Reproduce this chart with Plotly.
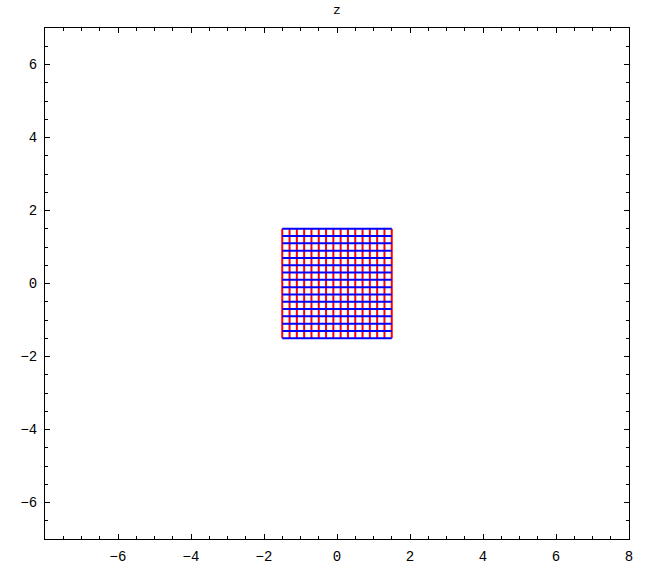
import plotly.graph_objects as go

# Grid line positions (both directions)
grid_positions = [-1.5, -1.3, -1.1, -0.9, -0.7, -0.5, -0.3, -0.1,
                  0.1, 0.3, 0.5, 0.7, 0.9, 1.1, 1.3, 1.5]
grid_min = -1.5
grid_max = 1.5

x_tickvals = [-6, -4, -2, 0, 2, 4, 6, 8]
x_ticktext = ["\u22126", "\u22124", "\u22122", "0", "2", "4", "6", "8"]
y_tickvals = [-6, -4, -2, 0, 2, 4, 6]
y_ticktext = ["\u22126", "\u22124", "\u22122", "0", "2", "4", "6"]

title_text = "z"

fig = go.Figure()

# vertical red lines
vx, vy = [], []
for p in grid_positions:
    vx += [p, p, None]
    vy += [grid_min, grid_max, None]
fig.add_trace(go.Scatter(x=vx, y=vy, mode="lines",
                         line=dict(color="#ff0000", width=2),
                         hoverinfo="skip", showlegend=False))

# horizontal blue lines
hx, hy = [], []
for p in grid_positions:
    hx += [grid_min, grid_max, None]
    hy += [p, p, None]
fig.add_trace(go.Scatter(x=hx, y=hy, mode="lines",
                         line=dict(color="#0000ff", width=2),
                         hoverinfo="skip", showlegend=False))

font = dict(family="Liberation Mono, Courier New, monospace", size=14, color="black")

axis_common = dict(
    showgrid=False, zeroline=False, showline=True, linecolor="black", linewidth=1,
    mirror="allticks", ticks="inside", ticklen=5, tickcolor="black", tickwidth=1,
    minor=dict(dtick=0.5, tick0=0, ticks="inside", ticklen=3, tickcolor="black", tickwidth=1, showgrid=False),
    tickfont=font, tickmode="array", automargin=False,
)

fig.update_xaxes(range=[-8, 8], tickvals=x_tickvals, ticktext=x_ticktext, ticklabelstandoff=4,
                 **axis_common)
fig.update_yaxes(range=[-7, 7], tickvals=y_tickvals, ticktext=y_ticktext, ticklabelstandoff=4,
                 **axis_common)

fig.update_layout(
    width=650, height=568,
    margin=dict(l=45, r=21, t=28, b=29),
    paper_bgcolor="white", plot_bgcolor="white",
    title=dict(text=title_text, x=0.5, xref="paper", xanchor="center", y=0.992, yanchor="top",
               automargin=False,
               font=dict(family="Liberation Mono, Courier New, monospace", size=13, color="black")),
)

fig.write_html("out.html", config={"displayModeBar": False},
               post_script="document.body.style.margin='0';document.body.style.overflow='hidden';")
